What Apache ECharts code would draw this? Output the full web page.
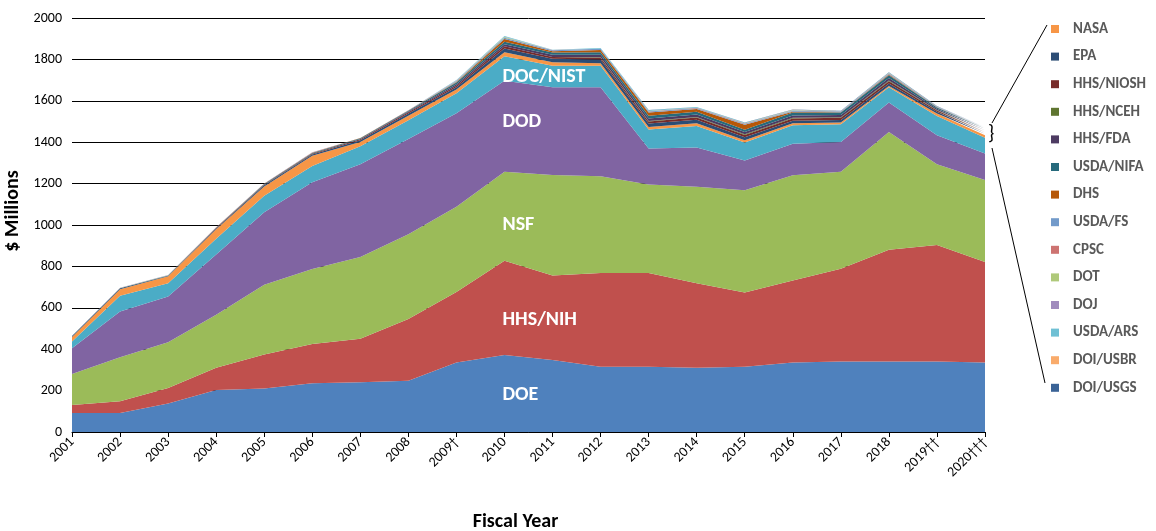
<!DOCTYPE html>
<html>
<head>
<meta charset="utf-8">
<script src="https://cdn.jsdelivr.net/npm/echarts@6/dist/echarts.min.js"></script>
<style>
  html, body { margin: 0; padding: 0; background: #fff; }
  #chart { width: 1156px; height: 531px; }
</style>
</head>
<body>
<div id="chart"></div>
<script>
// Fiscal years (x axis)
const years = ['2001', '2002', '2003', '2004', '2005', '2006', '2007', '2008', '2009\u2020', '2010',
  '2011', '2012', '2013', '2014', '2015', '2016', '2017', '2018', '2019\u2020\u2020', '2020\u2020\u2020\u2020'];

// $ millions per agency, stacked bottom to top
const doe      = [92, 92, 138, 203, 210, 236, 240, 248, 336, 372, 348, 315, 315, 310, 315, 336, 341, 341, 341, 336];
const hhsNih   = [39, 57, 75, 107, 165, 189, 211, 298, 340, 455, 408, 453, 453, 409, 359, 396, 448, 540, 562, 485];
const nsf      = [149, 212, 220, 256, 336, 362, 394, 409, 412, 430, 485, 468, 428, 466, 494, 508, 468, 568, 390, 396];
const dod      = [124, 221, 221, 291, 351, 420, 448, 460, 452, 440, 424, 429, 174, 189, 144, 153, 144, 143, 140, 128];
const docNist  = [33, 76, 65, 77, 79, 78, 88, 91, 96, 118, 104, 104, 91, 104, 86, 89, 86, 73, 94, 77];
const nasa     = [22, 32, 33, 45, 45, 50, 20, 22, 18, 20, 17, 13, 13, 14, 12, 9, 8, 7, 12, 11];
const epa      = [5, 5, 3, 4, 6, 5, 8, 11, 12, 18, 17, 17, 16, 16, 14, 13, 12, 12, 8, 8];
const hhsNiosh = [0, 0, 0, 2, 3, 4, 5, 6, 7, 10, 8, 9, 10, 11, 11, 11, 11, 11, 6, 7];
const hhsNceh  = [0, 0, 0, 0, 0, 0, 0, 0, 0, 0, 1, 2, 3, 3, 3, 3, 3, 3, 2, 2];
const hhsFda   = [0, 0, 0, 0, 0, 0, 2, 3, 7, 10, 11, 13, 12, 12, 11, 11, 10, 12, 7, 8];
const usdaNifa = [0, 0, 1, 2, 3, 4, 3, 4, 9, 12, 10, 11, 13, 13, 11, 14, 12, 14, 6, 7];
const dhs      = [0, 0, 0, 1, 1, 1, 1, 1, 2, 14, 6, 12, 15, 13, 24, 4, 2, 3, 1, 1];
const usdaFs   = [0, 0, 0, 0, 0, 0, 0, 0, 4, 5, 5, 5, 5, 4, 4, 4, 3, 4, 2, 2];
const cpsc     = [0, 0, 0, 0, 0, 1, 0, 0, 1, 1, 1, 1, 2, 2, 2, 1, 1, 2, 1, 1];
const dot      = [0, 1, 1, 0, 0, 0, 0, 0, 1, 3, 0, 0, 1, 1, 1, 1, 0, 1, 0, 0];
const doj      = [0, 1, 1, 1, 1, 1, 0, 1, 1, 2, 0, 0, 0, 0, 0, 0, 0, 0, 0, 0];
const usdaArs  = [0, 0, 0, 0, 0, 0, 0, 0, 2, 3, 2, 3, 3, 3, 3, 3, 2, 3, 2, 2];
const doiUsbr  = [0, 0, 0, 0, 0, 0, 0, 0, 0, 0, 0, 0, 0, 0, 0, 1, 0, 0, 0, 0];
const doiUsgs  = [0, 0, 0, 0, 0, 0, 0, 0, 0, 0, 0, 0, 1, 0, 1, 1, 1, 1, 1, 1];

const yTicks = [0, 200, 400, 600, 800, 1000, 1200, 1400, 1600, 1800, 2000];

const stackSeries = [
  ['DOE', doe, '#4F81BD'],
  ['HHS/NIH', hhsNih, '#C0504D'],
  ['NSF', nsf, '#9BBB59'],
  ['DOD', dod, '#8064A2'],
  ['DOC/NIST', docNist, '#4BACC6'],
  ['NASA', nasa, '#F79646'],
  ['EPA', epa, '#2C4D75'],
  ['HHS/NIOSH', hhsNiosh, '#772C2A'],
  ['HHS/NCEH', hhsNceh, '#5F7530'],
  ['HHS/FDA', hhsFda, '#4D3B62'],
  ['USDA/NIFA', usdaNifa, '#276A7C'],
  ['DHS', dhs, '#B65708'],
  ['USDA/FS', usdaFs, '#729ACA'],
  ['CPSC', cpsc, '#CD7371'],
  ['DOT', dot, '#AFC97A'],
  ['DOJ', doj, '#A08BBD'],
  ['USDA/ARS', usdaArs, '#6FC0D4'],
  ['DOI/USBR', doiUsbr, '#F9AB6B'],
  ['DOI/USGS', doiUsgs, '#3A6396']
];

const font = 'Carlito, Calibri, Lato, sans-serif';
const chart = echarts.init(document.getElementById('chart'));

chart.setOption({
  animation: false,
  textStyle: { fontFamily: font },
  grid: { left: 72, right: 171, top: 18, bottom: 99, outerBoundsMode: 'none', containLabel: false },
  legend: {
    orient: 'vertical',
    left: 1046,
    top: 15,
    itemWidth: 8,
    itemHeight: 8,
    itemGap: 9.6,
    icon: 'rect',
    data: stackSeries.slice(5).map(s => s[0]),
    textStyle: { fontFamily: font, fontSize: 15, fontWeight: 'bold', color: '#595959', lineHeight: 18, padding: [0, 0, 0, 9] }
  },
  xAxis: {
    type: 'category',
    boundaryGap: false,
    data: years,
    name: 'Fiscal Year',
    nameLocation: 'middle',
    nameGap: 80,
    nameTextStyle: { fontFamily: font, fontSize: 20, fontWeight: 'bold', color: '#000', padding: [0, 26, 0, 0] },
    axisLine: { lineStyle: { color: '#000', width: 1 } },
    axisTick: { alignWithLabel: true, length: 5, lineStyle: { color: '#000' } },
    axisLabel: { rotate: 45, fontSize: 14, color: '#000', margin: 8, interval: 0 }
  },
  yAxis: {
    type: 'value',
    min: yTicks[0],
    max: yTicks[yTicks.length - 1],
    interval: 200,
    name: '$ Millions',
    nameLocation: 'middle',
    nameGap: 44,
    nameTextStyle: { fontFamily: font, fontSize: 20, fontWeight: 'bold', color: '#000', padding: [0, 0, 0, 28] },
    axisLine: { show: false },
    axisTick: { show: false },
    axisLabel: { fontSize: 14, color: '#000', margin: 10, formatter: v => String(v) },
    splitLine: { lineStyle: { color: '#000', width: 1 } }
  },
  series: stackSeries.map(([name, values, color]) => ({
    name: name,
    type: 'line',
    stack: 'total',
    data: values,
    symbol: 'none',
    lineStyle: { width: 0 },
    itemStyle: { color: color },
    areaStyle: { color: color, opacity: 1 }
  }))
});

// in-area agency labels, anchored at FY2010 through the axes
const inlineLabels = [['DOE', 180], ['HHS/NIH', 541], ['NSF', 1000], ['DOD', 1498], ['DOC/NIST', 1715]];
const graphics = inlineLabels.map(([text, v]) => {
  const p = chart.convertToPixel({ gridIndex: 0 }, [years[9], v]);
  return {
    type: 'text',
    x: p[0] - 2,
    y: p[1],
    style: { text: text, fill: '#fff', font: 'bold 20px ' + font, textVerticalAlign: 'middle' },
    z: 100
  };
});

// brace + leader lines pointing from the thin top layers to the legend
graphics.push(
  { type: 'text', x: 988, y: 134, style: { text: '}', fill: '#000', font: '20px ' + font, textVerticalAlign: 'middle' }, z: 100 },
  { type: 'line', shape: { x1: 992, y1: 123, x2: 1047, y2: 25 }, style: { stroke: '#000', lineWidth: 1 }, z: 100 },
  { type: 'line', shape: { x1: 992, y1: 148, x2: 1045, y2: 383 }, style: { stroke: '#000', lineWidth: 1 }, z: 100 }
);

chart.setOption({ graphic: graphics });
</script>
</body>
</html>
